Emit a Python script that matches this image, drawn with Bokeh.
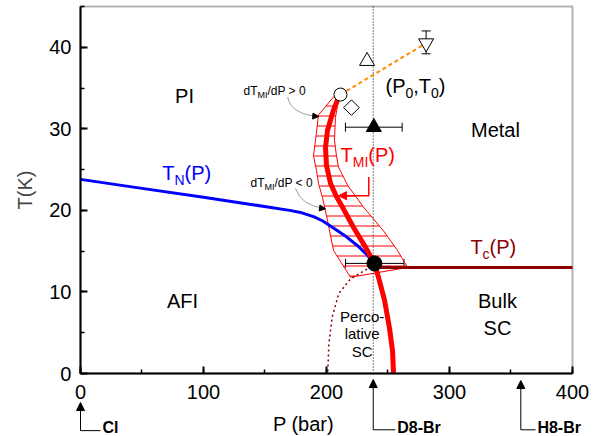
from bokeh.plotting import figure
from bokeh.models import (Range1d, SingleIntervalTicker, Label, Arrow, NormalHead, TeeHead,
                          Whisker, ColumnDataSource, BoxAnnotation)
from bokeh.embed import file_html
from bokeh.resources import INLINE

# ---------------- data ----------------
tn_P = [0, 50, 100, 140, 170, 180, 190, 197, 205, 215, 225, 232, 239]
tn_T = [23.8, 22.7, 21.6, 20.7, 20.0, 19.7, 19.2, 18.7, 17.9, 16.9, 15.7, 14.7, 13.5]

tmi_P = [210.6, 205.7, 200.8, 199.2, 200.0, 203.3, 208.1, 213.0, 222.0, 231.7, 239.0,
         242.3, 247.2, 251.2, 253.7, 254.5]
tmi_T = [34.2, 32.3, 29.8, 27.7, 25.5, 23.3, 21.7, 20.4, 17.9, 15.5, 13.5,
         11.8, 9.0, 5.6, 2.8, 0.0]

band_left_P = [205.7, 193.5, 191.1, 189.4, 191.9, 193.5, 196.7, 200.8, 205.7, 219.5]
band_left_T = [33.9, 31.7, 28.6, 26.7, 24.9, 23.3, 21.6, 18.8, 15.1, 11.8]
band_right_P = [265.9, 257.7, 246.3, 230.1, 217.1, 209.8, 208.1, 206.5, 207.3, 209.8]
band_right_T = [13.0, 15.1, 17.5, 20.4, 23.1, 25.3, 26.7, 28.6, 31.4, 33.5]

tc_P = [239, 400]
tc_T = [13.0, 13.0]

perc_P = [233, 219.5, 210, 204.6, 201.9, 201]
perc_T = [12.8, 11.6, 9.8, 6.9, 3.6, 0.0]

p0_P = [211.4, 281.0]          # open circle -> inverted triangle (dashed orange)
p0_T = [34.2, 40.5]
inv_tri_err = [39.2, 42.0]
open_tri_P, open_tri_T = [233.0], [38.3]
diamond_P, diamond_T = [220.3], [32.6]
fill_tri_P, fill_tri_T = [238.5], [30.2]
fill_tri_err = [215.4, 261.5]
dot_P, dot_T = [239.0], [13.5]
dot_err = [215.5, 263.0]

d8_P = 238
cl_P = 0
h8_P = 358

x_ticks_interval = 100
y_ticks_interval = 10

FONT = "Liberation Sans"
W = {"T": .611, "N": .722, "(": .333, ")": .333, "P": .667, "M": .833, "I": .278,
     "0": .556, ",": .278, "c": .5, "d": .556, "/": .278, " ": .278, ">": .584, "<": .584}

p = figure(width=601, height=436, x_range=Range1d(-65.04, 423.6), y_range=Range1d(-7.72, 45.73),
           output_backend="svg", toolbar_location=None,
           min_border_left=0, min_border_right=0, min_border_top=0, min_border_bottom=0)
p.title.visible = False
p.background_fill_color = "white"
p.border_fill_color = "white"
p.outline_line_color = None
p.xgrid.visible = False
p.ygrid.visible = False

for ax, iv in ((p.xaxis[0], x_ticks_interval), (p.yaxis[0], y_ticks_interval)):
    ax.ticker = SingleIntervalTicker(interval=iv, num_minor_ticks=2)
    ax.axis_line_width = 2
    ax.major_tick_in = 7
    ax.major_tick_out = 0
    ax.minor_tick_in = 4
    ax.minor_tick_out = 0
    ax.major_tick_line_width = 2
    ax.minor_tick_line_width = 1.5
    ax.major_label_text_font = FONT
    ax.major_label_text_font_size = "20px"
    ax.major_label_text_color = "black"
    ax.fixed_location = 0
p.xaxis.bounds = (0, 400)
p.yaxis.bounds = (0, 45)
p.xaxis.major_label_standoff = 11
p.yaxis.major_label_standoff = 9
p.yaxis.axis_label = "T(K)"
p.yaxis.axis_label_text_font = FONT
p.yaxis.axis_label_text_font_size = "20px"
p.yaxis.axis_label_text_font_style = "normal"
p.yaxis.axis_label_standoff = 10

# plot box
p.add_layout(BoxAnnotation(left=0, right=400, bottom=0, top=45, fill_alpha=0,
                           line_color="black", line_width=2, level="underlay"))

# hatched band
p.patch(band_left_P + band_right_P, band_left_T + band_right_T,
        fill_alpha=0, hatch_pattern="-", hatch_color="red", hatch_scale=10, hatch_weight=1,
        line_color="red", line_width=1)

p.line(tn_P, tn_T, line_color="#0000ff", line_width=3)
p.line(tc_P, tc_T, line_color="#8b0000", line_width=3)
p.line(perc_P, perc_T, line_color="#8b0000", line_width=1.5, line_dash="2 3")
p.line(tmi_P, tmi_T, line_color="red", line_width=5)
p.line([d8_P, d8_P], [0, 45], line_color="black", line_width=1, line_dash="1 2")
p.line(p0_P, p0_T, line_color="#ff8c00", line_width=2, line_dash="4 3")

# error bars
src_v = ColumnDataSource(dict(x=[p0_P[1]], lo=[inv_tri_err[0]], hi=[inv_tri_err[1]]))
p.add_layout(Whisker(source=src_v, base="x", lower="lo", upper="hi", dimension="height",
                     line_color="black", line_width=1,
                     upper_head=TeeHead(size=9, line_width=1), lower_head=TeeHead(size=9, line_width=1)))
src_h = ColumnDataSource(dict(y=[fill_tri_T[0], dot_T[0]], lo=[fill_tri_err[0], dot_err[0]],
                              hi=[fill_tri_err[1], dot_err[1]]))
p.add_layout(Whisker(source=src_h, base="y", lower="lo", upper="hi", dimension="width",
                     line_color="black", line_width=1,
                     upper_head=TeeHead(size=9, line_width=1), lower_head=TeeHead(size=9, line_width=1)))

# markers
p.scatter([p0_P[0]], [p0_T[0]], marker="circle", size=13, fill_color="white",
          line_color="black", line_width=1)
p.scatter([p0_P[1]], [p0_T[1]], marker="inverted_triangle", size=15, fill_color="white",
          line_color="black", line_width=1)
p.scatter(open_tri_P, open_tri_T, marker="triangle", size=15, fill_color="white",
          line_color="black", line_width=1)
p.scatter(diamond_P, diamond_T, marker="square", angle=0.785398, size=11, fill_color="white",
          line_color="black", line_width=1)
p.scatter(fill_tri_P, fill_tri_T, marker="triangle", size=15, fill_color="black",
          line_color="black")
p.scatter(dot_P, dot_T, marker="circle", size=15, fill_color="black", line_color="black")

# red bracket arrow to TMI curve
p.line([234.4, 234.4, 220.0], [24.1, 21.8, 21.8], line_color="red", line_width=1.5)
p.add_layout(Arrow(x_start=220.0, y_start=21.8, x_end=209.8, y_end=21.8,
                   line_color="red", line_width=1.5,
                   end=NormalHead(size=8, fill_color="red", line_color="red")))

# thin curved pointer arrows
curves = [((168.5, 33.9), (170.7, 31.8), (193.7, 31.5)),
          ((174.8, 22.7), (178.9, 20.6), (199.2, 20.2))]
for (s, c, e) in curves:
    p.quadratic(x0=s[0], y0=s[1], x1=e[0], y1=e[1], cx=c[0], cy=c[1],
                line_color="#a0a0a0", line_width=1)
    dx, dy = e[0] - c[0], e[1] - c[1]
    p.add_layout(Arrow(x_start=e[0] - dx * 0.2, y_start=e[1] - dy * 0.2, x_end=e[0], y_end=e[1],
                       line_alpha=0, end=NormalHead(size=6, fill_color="black", line_color="black")))


def label(x, y, text, size=20, color="black", align="left", style="normal", xo=0, yo=0):
    p.add_layout(Label(x=x, y=y, x_offset=xo, y_offset=yo + 0.3 * size, text=text,
                       text_font=FONT, text_font_size=f"{size}px", text_color=color,
                       text_align=align, text_baseline="alphabetic", text_font_style=style))


def rich(x, y, pieces, color="black"):
    off = 0.0
    for txt, size, dy in pieces:
        label(x, y, txt, size=size, color=color, xo=off, yo=dy)
        off += sum(W.get(ch, 0.556) for ch in txt) * size


label(84.6, 33.3, "PI", align="center")
label(83, 8.2, "AFI", align="center")
label(337.4, 29.1, "Metal", align="center")
label(339, 8.1, "Bulk", align="center")
label(339, 4.9, "SC", align="center")
label(229, 6.5, "Perco-", size=15, align="center")
label(229, 4.4, "lative", size=15, align="center")
label(229, 2.2, "SC", size=15, align="center")

rich(66.4, 23.8, [("T", 20, 0), ("N", 14, -5), ("(P)", 20, 0)], color="#0000ff")
rich(211.4, 26.0, [("T", 20, 0), ("MI", 14, -5), ("(P)", 20, 0)], color="red")
rich(317, 14.8, [("T", 20, 0), ("c", 14, -5), ("(P)", 20, 0)], color="#8b0000")
rich(248, 34.5, [("(P", 20, 0), ("0", 14, -5), (",T", 20, 0), ("0", 14, -5), (")", 20, 0)])
rich(132.5, 34.2, [("dT", 12, 0), ("MI", 9, -3), ("/dP > 0", 12, 0)])
rich(138.2, 22.9, [("dT", 12, 0), ("MI", 9, -3), ("/dP < 0", 12, 0)])

# x-axis title (offset left of centre as in the original)
label(181.3, -6.9, "P (bar)", align="center")

# sample markers below the axis
for (xp, tip, corner, hend, name) in ((cl_P, -3.56, -7.0, 16.3, "Cl"),
                                      (d8_P, -0.74, -6.9, 256.0, "D8-Br"),
                                      (h8_P, -0.86, -6.9, 370.0, "H8-Br")):
    p.add_layout(Arrow(x_start=xp, y_start=corner, x_end=xp, y_end=tip, line_color="black",
                       line_width=1, end=NormalHead(size=8, fill_color="black", line_color="black")))
    p.add_layout(Arrow(x_start=xp, y_start=corner, x_end=hend, y_end=corner, line_color="black",
                       line_width=1, end=None))
    label(hend + 1.5, -7.15, name, size=16, style="bold")

open("out.html", "w").write(file_html(p, INLINE))
